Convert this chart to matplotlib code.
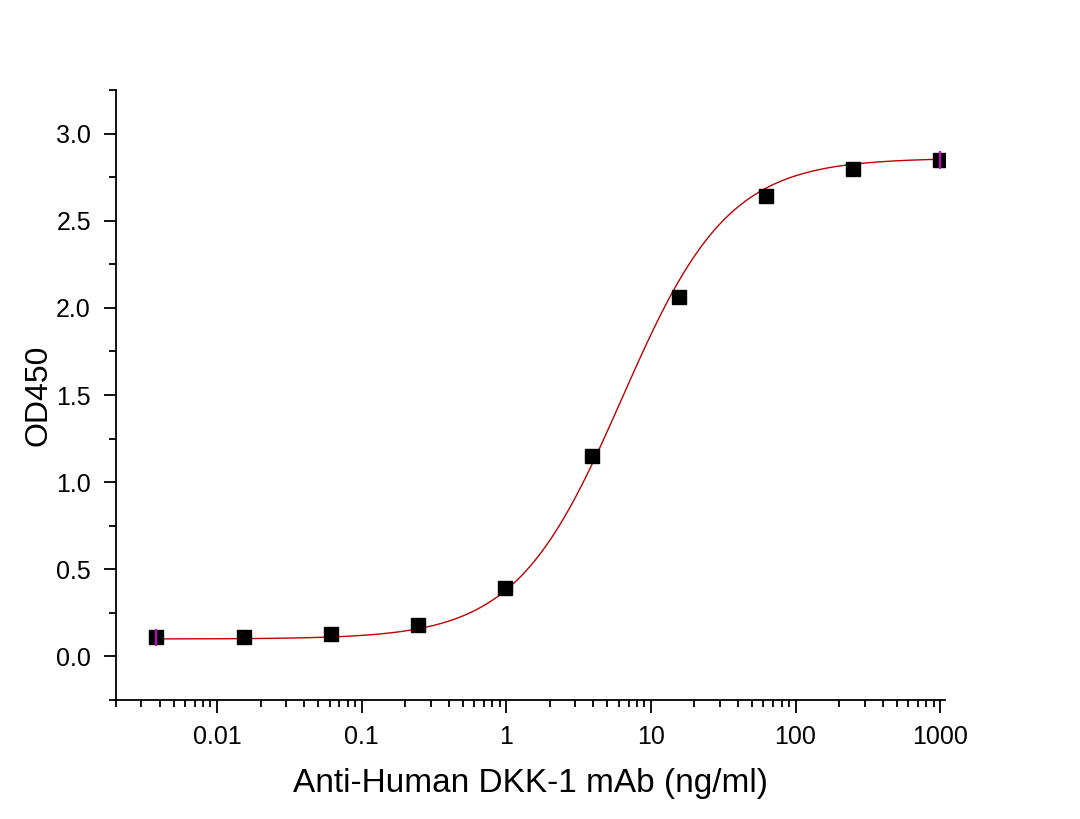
import matplotlib
matplotlib.use("Agg")
import matplotlib.pyplot as plt
import numpy as np
from matplotlib.ticker import LogLocator, MultipleLocator, FixedFormatter, FixedLocator

plt.rcParams["font.family"] = ["Liberation Sans", "DejaVu Sans"]

# measured points
conc = [1000, 250, 62.5, 15.625, 3.906, 0.977, 0.244, 0.061, 0.0153, 0.0038]
od450 = [2.85, 2.80, 2.64, 2.06, 1.15, 0.39, 0.18, 0.13, 0.11, 0.11]
od_err = [0.05, 0.0, 0.0, 0.0, 0.0, 0.0, 0.0, 0.0, 0.0, 0.05]

# 4PL fit parameters (bottom, top, EC50, hill)
fit_bottom = 0.10
fit_top = 2.86
fit_ec50 = 6.3
fit_hill = 1.18

xfit = np.logspace(np.log10(0.0038), np.log10(1000), 400)
yfit = fit_top + (fit_bottom - fit_top) / (1 + (xfit / fit_ec50) ** fit_hill)

fig = plt.figure(figsize=(10.8, 8.19), dpi=100)
ax = fig.add_axes([0.1074, 0.1453, 0.7676, 0.7447])

ax.plot(xfit, yfit, color="#c00000", lw=1.0, zorder=2)
ax.plot(conc, od450, "s", color="black", ms=9.5, zorder=3)
ax.errorbar(conc, od450, yerr=od_err, fmt="none", ecolor="#d000d0", elinewidth=1.5, capsize=0, zorder=4)

ax.set_xscale("log")
ax.set_xlim(0.002, 1080)
ax.set_ylim(-0.25, 3.25)

ax.xaxis.set_major_locator(FixedLocator([0.01, 0.1, 1, 10, 100, 1000]))
ax.xaxis.set_major_formatter(FixedFormatter(["0.01", "0.1", "1", "10", "100", "1000"]))
ax.xaxis.set_minor_locator(LogLocator(base=10, subs=np.arange(2, 10), numticks=20))
ax.yaxis.set_major_locator(MultipleLocator(0.5))
ax.yaxis.set_minor_locator(MultipleLocator(0.25))
ax.yaxis.set_major_formatter(plt.FuncFormatter(lambda v, p: "%.1f" % v))

for s in ["top", "right"]:
    ax.spines[s].set_visible(False)
for s in ["left", "bottom"]:
    ax.spines[s].set_linewidth(1.3)

ax.tick_params(which="major", direction="out", length=9, width=1.3, labelsize=18, pad=9)
ax.tick_params(which="minor", direction="out", length=5, width=1.3)

ax.set_xlabel("Anti-Human DKK-1 mAb (ng/ml)", fontsize=24, labelpad=14)
ax.set_ylabel("OD450", fontsize=23, labelpad=2)

fig.savefig("out.png", dpi=100)
